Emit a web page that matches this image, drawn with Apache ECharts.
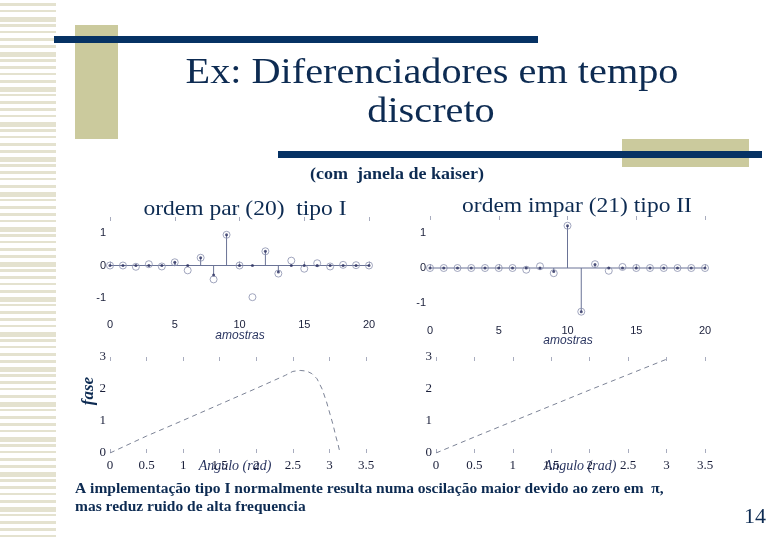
<!DOCTYPE html>
<html><head><meta charset="utf-8">
<script src="https://cdn.jsdelivr.net/npm/echarts@6/dist/echarts.min.js"></script>
<style>html,body{margin:0;padding:0;background:#fff}#c{width:780px;height:540px}</style>
</head><body><div id="c"></div>
<script>
// ---- data ----
const samples = [0,1,2,3,4,5,6,7,8,9,10,11,12,13,14,15,16,17,18,19,20];
const typeICircles = [0,0,-0.04,0.04,-0.03,0.1,-0.15,0.24,-0.43,0.95,0,-0.98,0.44,-0.25,0.15,-0.1,0.07,-0.03,0.02,0.01,0];
const typeIStems   = [0,0,0,0,0,0.1,0,0.24,-0.29,0.95,0,0,0.44,-0.2,0,0,0,0,0,0,0];
const typeIICircles = [0,0,0,0,0,0,0,-0.05,0.05,-0.15,1.22,-1.26,0.11,-0.08,0.03,0,0,0,0,0,0];
const typeIIStems   = [0,0,0,0,0,0,0,0,0,-0.1,1.22,-1.26,0.1,0,0,0,0,0,0,0,0];
const phaseIAngle = [0,0.5,1,1.5,2,2.4,2.5,2.6,2.69,2.76,2.83,2.9,2.96,3.01,3.05,3.09,3.12,3.14];
const phaseIValue = [0,0.53,1.02,1.52,2.02,2.43,2.55,2.58,2.56,2.48,2.32,2.0,1.6,1.2,0.88,0.5,0.25,0.05];
const phaseIIAngle = [0,0.5,1,1.5,2,2.5,3.02];
const phaseIIValue = [0,0.5,0.99,1.48,1.97,2.45,2.95];
const stemBaseline = [0,20];

// ---- styling ----
const NAVY = '#0d2b52';
const STEM = '#6a7396';
const CIRC = '#8990ae';
const LBL = '#1a1f3a';

const grids = [
  {left:110, top:217, width:259, height:97},
  {left:430, top:216, width:275, height:104},
  {left:110, top:357, width:256, height:96},
  {left:436, top:357, width:269, height:96}
];

function xAx(gi, min, max, interval, font, pos) {
  const top = pos === 'top';
  return {type:'value', gridIndex:gi, min, max, interval, position: top?'top':'bottom',
    axisLine:{show:false}, splitLine:{show:false},
    axisTick:{show:true, inside:true, length:4, lineStyle:{color:'#a8acbe'}},
    axisLabel:{show:!top, color:LBL, fontFamily:font, fontSize: font.indexOf('Serif')>=0?13:11, margin: gi<2?5:6}};
}
function yAx(gi, min, max, interval, font, intOnly) {
  return {type:'value', gridIndex:gi, min, max, interval,
    axisLine:{show:false}, splitLine:{show:false}, axisTick:{show:false},
    axisLabel:{color:LBL, fontFamily:font, fontSize: font.indexOf('Serif')>=0?13:11, margin:4,
      formatter: v => intOnly ? (Math.abs(v - Math.round(v))<1e-9 ? String(Math.round(v)) : '') : String(v)}};
}

function stemSeries(ai, vals) {
  return {type:'custom', xAxisIndex:ai, yAxisIndex:ai, silent:true, z:2,
    data: samples.map((s,i)=>[s, vals[i]]),
    renderItem:(params, api)=>{
      const p0 = api.coord([api.value(0), 0]);
      const p1 = api.coord([api.value(0), api.value(1)]);
      return {type:'line', shape:{x1:p0[0],y1:p0[1],x2:p1[0],y2:p1[1]}, style:{stroke:STEM, lineWidth:1}};
    }};
}
function baseSeries(ai) {
  return {type:'line', xAxisIndex:ai, yAxisIndex:ai, silent:true, symbol:'none', z:1,
    data: stemBaseline.map(x=>[x,0]), lineStyle:{color:STEM, width:1}};
}
function circleSeries(ai, vals) {
  return {type:'scatter', xAxisIndex:ai, yAxisIndex:ai, silent:true, symbol:'circle', symbolSize:7, z:3,
    data: samples.map((s,i)=>[s, vals[i]]),
    itemStyle:{color:'rgba(0,0,0,0)', borderColor:CIRC, borderWidth:1}};
}
function dotSeries(ai, vals) {
  return {type:'scatter', xAxisIndex:ai, yAxisIndex:ai, silent:true, symbol:'circle', symbolSize:3, z:4,
    data: samples.map((s,i)=>[s, vals[i]]), itemStyle:{color:'#2a3060'}};
}
function phaseSeries(ai, xs, ys) {
  return {type:'line', xAxisIndex:ai, yAxisIndex:ai, silent:true, symbol:'none', smooth:false,
    data: xs.map((x,i)=>[x, ys[i]]), lineStyle:{color:'#7c8396', width:1, type:[5,4]}};
}

function txt(x, y, text, font, opts) {
  return Object.assign({type:'text', x, y, silent:true,
    style:{text, fill:NAVY, font, textAlign:'center', textVerticalAlign:'middle'}}, opts || {});
}

// ---- decorations ----
const graphics = [];
for (let y = 3, k = 0; y < 540; y += 7, k++) {
  const h = (k % 5 === 2) ? 5 : (k % 3 === 1 ? 2 : 3);
  graphics.push({type:'rect', shape:{x:0, y:y, width:56, height:h}, style:{fill:'#e4e2cf'}, silent:true});
}
graphics.push(
  {type:'rect', shape:{x:75, y:25, width:43, height:114}, style:{fill:'#cbca9d'}},
  {type:'rect', shape:{x:54, y:36, width:484, height:7}, style:{fill:'#063264'}},
  {type:'rect', shape:{x:622, y:139, width:127, height:28}, style:{fill:'#cbca9d'}},
  {type:'rect', shape:{x:278, y:151, width:484, height:7}, style:{fill:'#063264'}},
  txt(432, 74, 'Ex: Diferenciadores em tempo', '35px "Liberation Serif"', {scaleX:1.15}),
  txt(431, 113, 'discreto', '35px "Liberation Serif"', {scaleX:1.15}),
  txt(397, 175, '(com  janela de kaiser)', 'bold 17px "Liberation Serif"', {scaleX:1.06}),
  txt(245, 209, 'ordem par (20)  tipo I', '21px "Liberation Serif"', {scaleX:1.12}),
  txt(577, 206, 'ordem impar (21) tipo II', '21px "Liberation Serif"', {scaleX:1.12}),
  {type:'text', x:240, y:336, style:{text:'amostras', fill:'#2a3560', font:'italic 12px "Liberation Sans"', textAlign:'center', textVerticalAlign:'middle'}},
  {type:'text', x:568, y:341, style:{text:'amostras', fill:'#2a3560', font:'italic 12px "Liberation Sans"', textAlign:'center', textVerticalAlign:'middle'}},
  {type:'text', x:235, y:466, style:{text:'Angulo (rad)', fill:'#2a3560', font:'italic 14px "Liberation Serif"', textAlign:'center', textVerticalAlign:'middle'}},
  {type:'text', x:580, y:466, style:{text:'Angulo (rad)', fill:'#2a3560', font:'italic 14px "Liberation Serif"', textAlign:'center', textVerticalAlign:'middle'}},
  txt(89, 391, 'fase', 'italic bold 17px "Liberation Serif"', {rotation:Math.PI/2}),
  {type:'text', x:75, y:489, style:{text:'A implementação tipo I normalmente resulta numa oscilação maior devido ao zero em  π,', fill:NAVY, font:'bold 15.5px "Liberation Serif"', textAlign:'left', textVerticalAlign:'middle'}},
  {type:'text', x:75, y:507, style:{text:'mas reduz ruido de alta frequencia', fill:NAVY, font:'bold 15.5px "Liberation Serif"', textAlign:'left', textVerticalAlign:'middle'}},
  txt(755, 517, '14', '22px "Liberation Serif"')
);

const SANS = 'Liberation Sans', SERIF = 'Liberation Serif';
const option = {
  animation:false,
  backgroundColor:'#ffffff',
  grid: grids,
  xAxis: [
    xAx(0,0,20,5,SANS,'bottom'), xAx(1,0,20,5,SANS,'bottom'),
    xAx(2,0,3.5,0.5,SERIF,'bottom'), xAx(3,0,3.5,0.5,SERIF,'bottom'),
    xAx(0,0,20,5,SANS,'top'), xAx(1,0,20,5,SANS,'top'),
    xAx(2,0,3.5,0.5,SERIF,'top'), xAx(3,0,3.5,0.5,SERIF,'top')
  ],
  yAxis: [
    yAx(0,-1.5,1.5,0.5,SANS,true), yAx(1,-1.5,1.5,0.5,SANS,true),
    yAx(2,0,3,1,SERIF,false), yAx(3,0,3,1,SERIF,false)
  ],
  series: [
    baseSeries(0), stemSeries(0, typeIStems), circleSeries(0, typeICircles), dotSeries(0, typeIStems),
    baseSeries(1), stemSeries(1, typeIIStems), circleSeries(1, typeIICircles), dotSeries(1, typeIIStems),
    phaseSeries(2, phaseIAngle, phaseIValue),
    phaseSeries(3, phaseIIAngle, phaseIIValue)
  ],
  graphic: graphics
};
const chart = echarts.init(document.getElementById('c'), null, {renderer:'canvas'});
chart.setOption(option);
</script></body></html>
